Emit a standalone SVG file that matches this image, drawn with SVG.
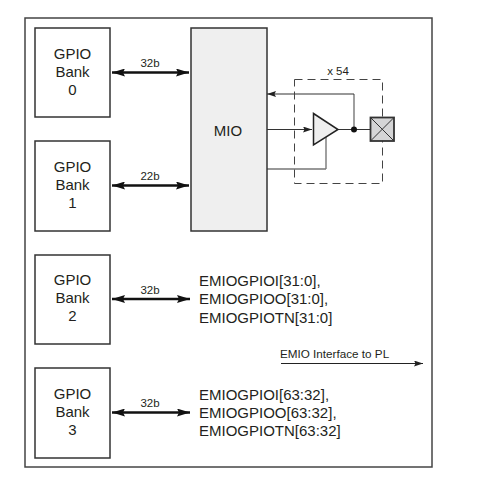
<svg xmlns="http://www.w3.org/2000/svg" width="484" height="477" viewBox="0 0 484 477">
<style>
text{font-family:"Liberation Sans",Arial,sans-serif;fill:#231f20}
.bank{fill:#fff;stroke:#333;stroke-width:1.5}
.t{font-size:15px;text-anchor:middle}
.e{font-size:15px}
.s{font-size:11.5px;text-anchor:middle}
.bus{fill:none;stroke:#111;stroke-width:2.4;marker-start:url(#bs);marker-end:url(#be)}
.w{fill:none;stroke:#333;stroke-width:1.1}
.g{fill:none;stroke:#777;stroke-width:1.4}
</style>
<defs>
<marker id="be" markerUnits="userSpaceOnUse" markerWidth="14" markerHeight="8" refX="13" refY="4" orient="auto"><path d="M0 0L13 4L0 8L2 4Z" fill="#111"/></marker>
<marker id="bs" markerUnits="userSpaceOnUse" markerWidth="14" markerHeight="8" refX="0" refY="4" orient="auto"><path d="M13 0L0 4L13 8L11 4Z" fill="#111"/></marker>
<marker id="a" markerUnits="userSpaceOnUse" markerWidth="10" markerHeight="6" refX="9" refY="3" orient="auto"><path d="M0 0L9 3L0 6L1.5 3Z" fill="#222"/></marker>
</defs>
<rect id="frame" x="25" y="18" width="407" height="449" fill="#fff" stroke="#444" stroke-width="1.5"/>
<g id="bank0"><rect class="bank" x="35" y="28" width="75" height="89"/><text class="t" x="72.500" y="59">GPIO</text><text class="t" x="72.500" y="77">Bank</text><text class="t" x="72.500" y="95">0</text></g>
<g id="bank1"><rect class="bank" x="35" y="141" width="75" height="90"/><text class="t" x="72.500" y="172">GPIO</text><text class="t" x="72.500" y="190">Bank</text><text class="t" x="72.500" y="208">1</text></g>
<g id="bank2"><rect class="bank" x="35" y="255" width="75" height="89"/><text class="t" x="72.500" y="285">GPIO</text><text class="t" x="72.500" y="303">Bank</text><text class="t" x="72.500" y="321">2</text></g>
<g id="bank3"><rect class="bank" x="35" y="368" width="75" height="90"/><text class="t" x="72.500" y="399">GPIO</text><text class="t" x="72.500" y="417">Bank</text><text class="t" x="72.500" y="435">3</text></g>
<g id="mio"><rect x="191" y="28" width="76" height="203" fill="#efefef" stroke="#333" stroke-width="1.5"/><text class="t" x="228" y="136">MIO</text></g>
<g id="connectors">
<path class="bus" d="M112 72.500H189"/>
<path class="bus" d="M112 185.500H189"/>
<path class="bus" d="M112 299H190"/>
<path class="bus" d="M112 412.500H190"/>
<path class="g" d="M354 94V129"/>
<path class="w" d="M354 94H267" marker-end="url(#a)"/>
<path class="w" d="M267 129.500H312" marker-end="url(#a)"/>
<path class="w" d="M338 129.500H371"/>
<path class="w" d="M267 169H326"/>
<path class="g" d="M326 169V136"/>
<path d="M281 363.500H423" fill="none" stroke="#222" stroke-width="1" marker-end="url(#a)"/>
</g>
<rect id="x54-box" x="294.500" y="79.500" width="88" height="104" fill="none" stroke="#444" stroke-width="1" stroke-dasharray="8 5"/>
<g id="buffer"><path d="M313.500 113.500L338 129.500L313.500 145Z" fill="#eee" stroke="#222" stroke-width="1.500"/></g>
<circle id="junction" cx="354" cy="129.500" r="3" fill="#111"/>
<g id="pad"><rect x="370.500" y="117.500" width="23.500" height="23.500" fill="#d5d5d6" stroke="#333" stroke-width="1.800"/><path d="M370.500 117.500L394 141M394 117.500L370.500 141" stroke="#333" stroke-width="1" fill="none"/></g>
<g id="labels">
<text class="s" x="150" y="67">32b</text>
<text class="s" x="150" y="180">22b</text>
<text class="s" x="150" y="294">32b</text>
<text class="s" x="150" y="407">32b</text>
<text class="s" x="338" y="75">x 54</text>
<text class="e" x="199" y="286">EMIOGPIOI[31:0],</text>
<text class="e" x="199" y="304">EMIOGPIOO[31:0],</text>
<text class="e" x="199" y="323">EMIOGPIOTN[31:0]</text>
<text class="e" x="199" y="400">EMIOGPIOI[63:32],</text>
<text class="e" x="199" y="418">EMIOGPIOO[63:32],</text>
<text class="e" x="199" y="436">EMIOGPIOTN[63:32]</text>
<text x="280" y="358" font-size="11.700">EMIO Interface to PL</text>
</g>
</svg>
